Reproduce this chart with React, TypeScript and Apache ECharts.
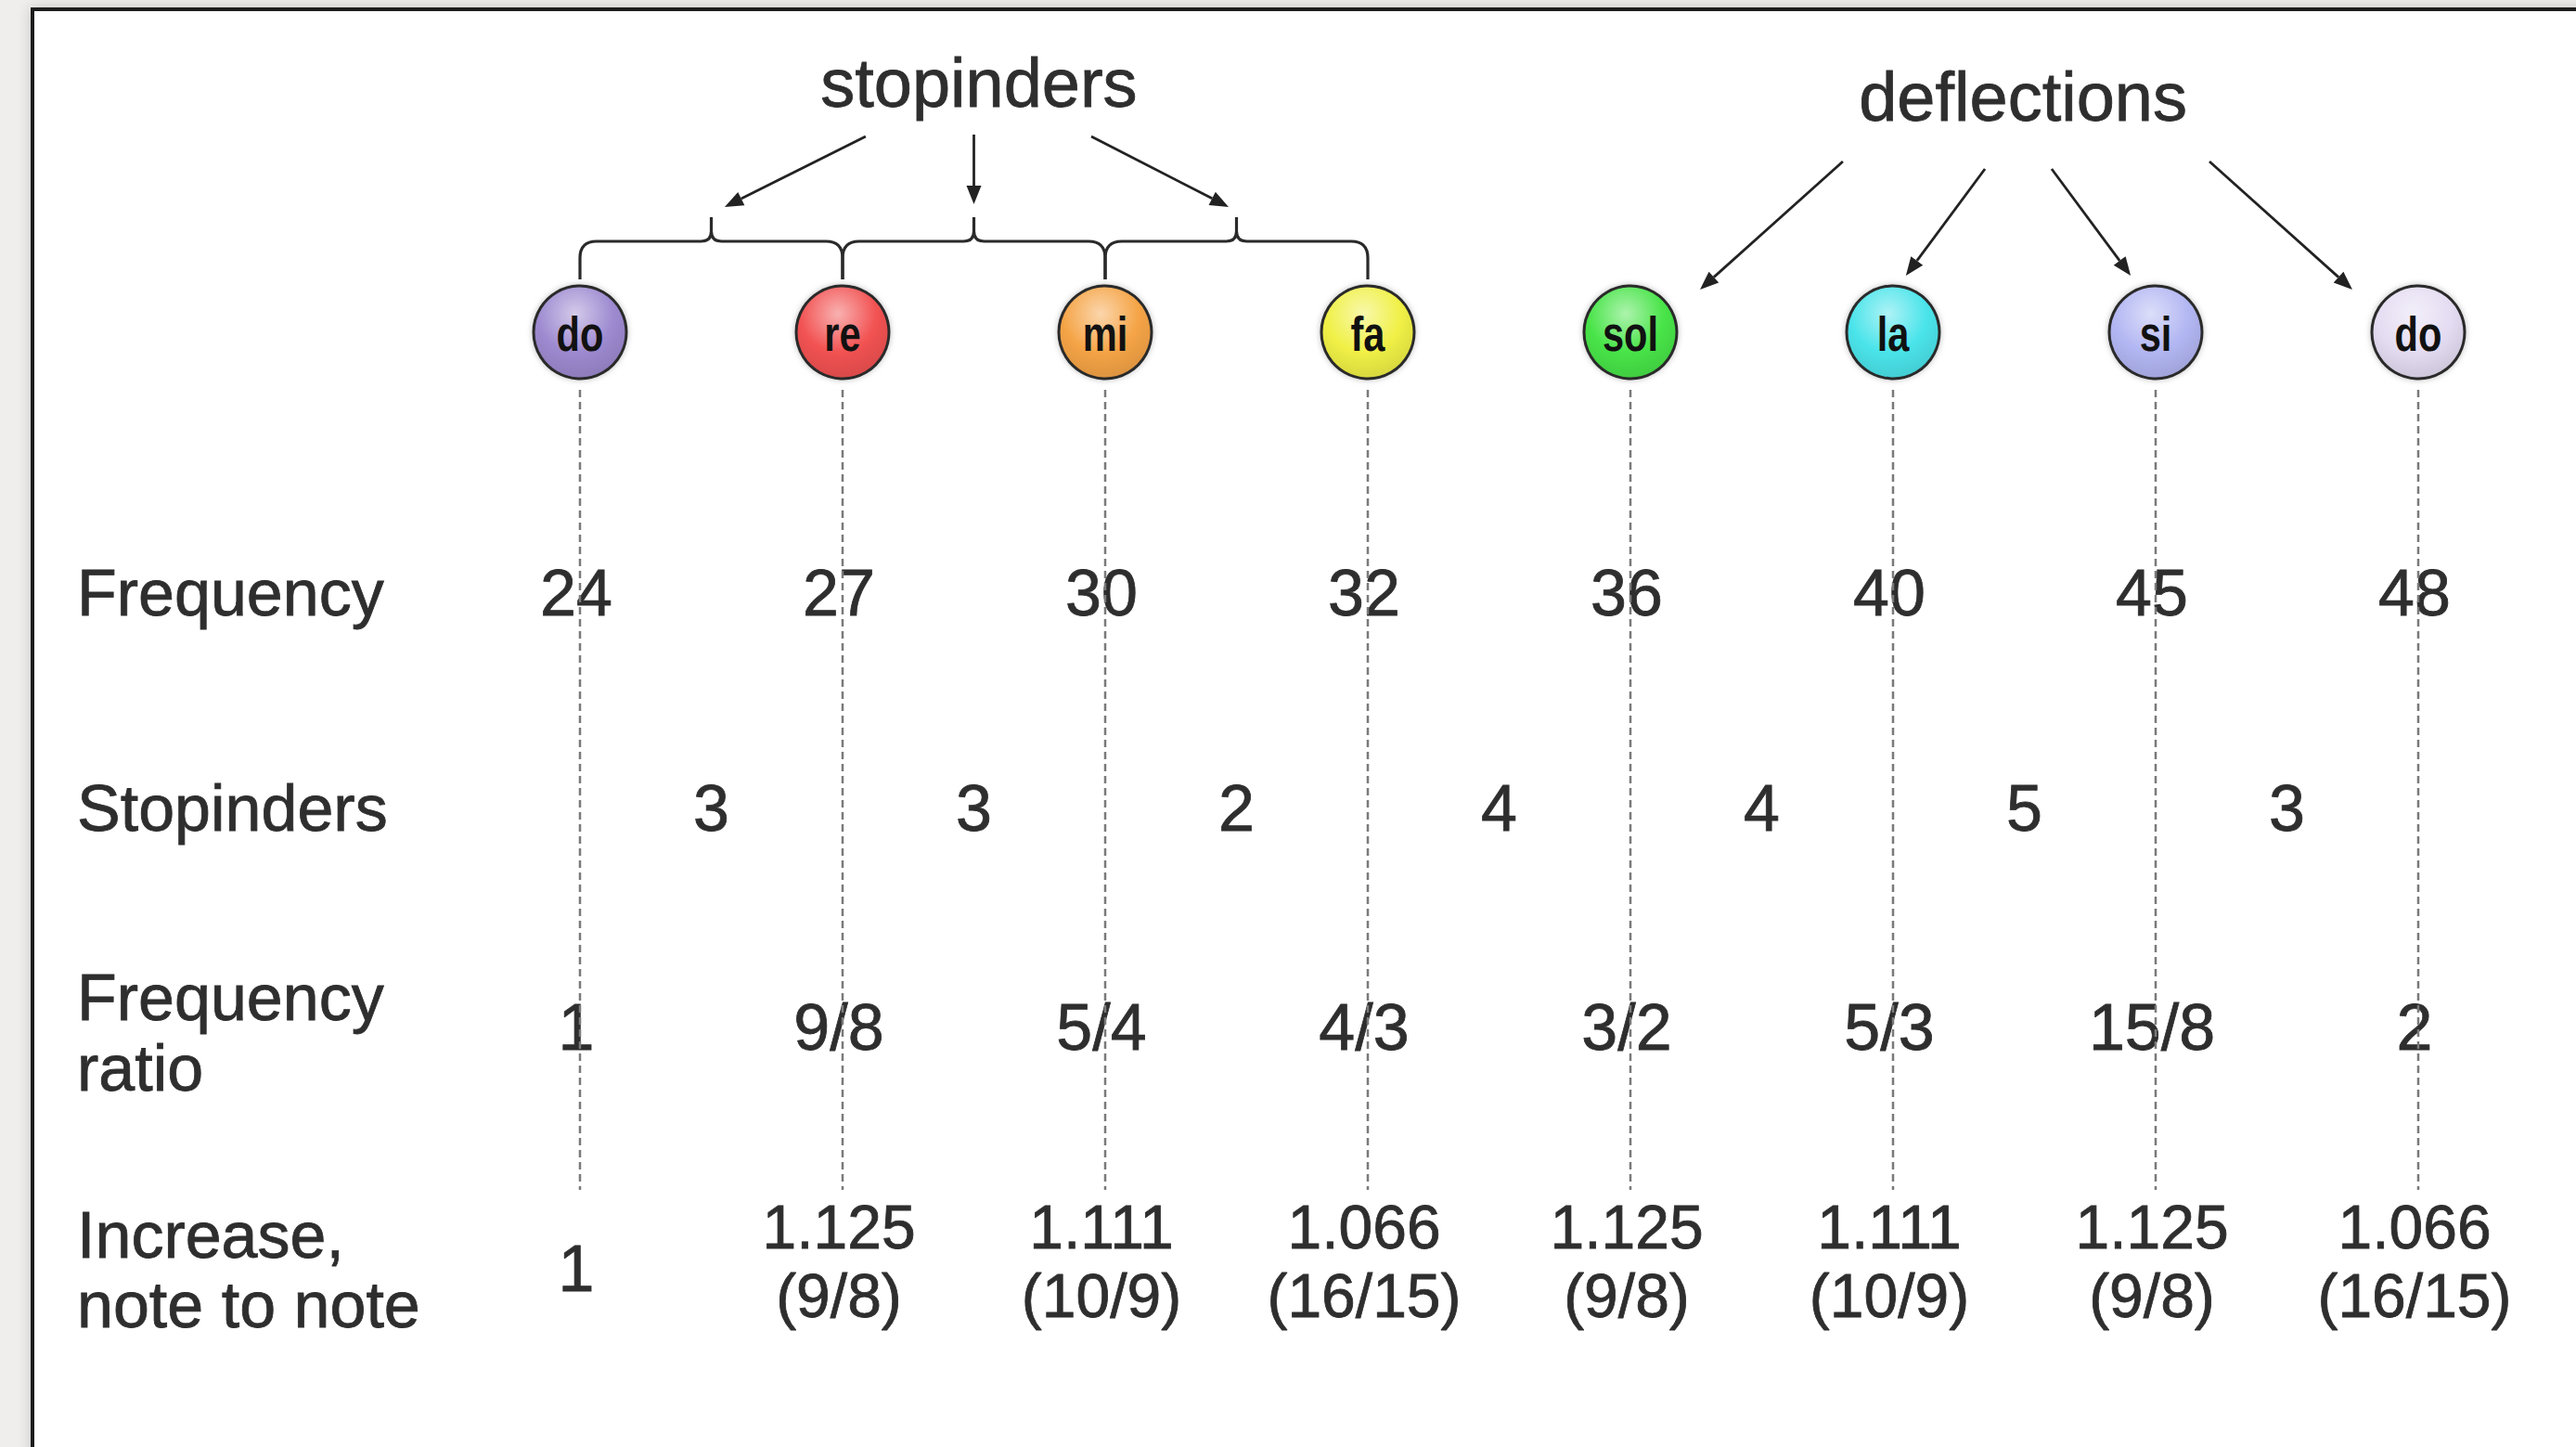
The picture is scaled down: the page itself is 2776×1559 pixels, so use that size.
import React, { useEffect, useRef } from "react";
import * as echarts from "echarts";

// ---------- data ----------
const notes = ["do", "re", "mi", "fa", "sol", "la", "si", "do"];
const noteColors = ["#9d8ad0", "#f25252", "#f5a446", "#f0f046", "#48e448", "#4ae4ea", "#b2b6f2", "#e4dcf2"];
const frequencies = [24, 27, 30, 32, 36, 40, 45, 48];
const stopinderCounts = [3, 3, 2, 4, 4, 5, 3];
const frequencyRatios = ["1", "9/8", "5/4", "4/3", "3/2", "5/3", "15/8", "2"];
const increaseDecimals = ["1", "1.125", "1.111", "1.066", "1.125", "1.111", "1.125", "1.066"];
const increaseFractions = ["", "(9/8)", "(10/9)", "(16/15)", "(9/8)", "(10/9)", "(9/8)", "(16/15)"];
const rowLabels = ["Frequency", "Stopinders", "Frequency\nratio", "Increase,\nnote to note"];
const groupTitles = ["stopinders", "deflections"];
const braceSpans = [[0, 1], [1, 2], [2, 3]];
// arrows: [fromNote, fromY, toNote, toY] (note index units, vertical layout units)
const stopinderArrows = [
  [1.088, 147, 0.551, 223],
  [1.5, 145, 1.5, 220],
  [1.947, 147, 2.47, 223],
];
const deflectionArrows = [
  [4.809, 174, 4.265, 312],
  [5.35, 182, 5.049, 297],
  [5.604, 182, 5.905, 297],
  [6.205, 174, 6.749, 312],
];

// ---------- layout ----------
const W = 2776;
const H = 1559;
const X0 = 625;
const STEP = 283;
const CIRCLE_Y = 358;
const CIRCLE_R = 50;
const DASH_TOP = 420;
const DASH_BOTTOM = 1282;
const ROW_FREQ = 639;
const ROW_STOP = 871;
const ROW_RATIO = 1107;
const ROW_INC_1 = 1322;
const ROW_INC_2 = 1396;
const ROW_INC_SINGLE = 1367;
const LABEL_X = 83;
const LABEL_Y = [639, 871, 1113, 1368];
const TITLE_POS = [[1.519, 89], [5.495, 104]];
const BRACE_TOP = 260;
const BRACE_END = 301;
const BRACE_TIP = 234;
const TEXT_DX = -4;

const FONT = '"Liberation Sans", Arial, Helvetica, sans-serif';
const TEXT_COLOR = "#2e2e2e";
const FS = 70;

function lighten(hex: string, amt: number) {
  const n = parseInt(hex.slice(1), 16);
  let r = (n >> 16) & 255, g = (n >> 8) & 255, b = n & 255;
  r = Math.round(r + (255 - r) * amt);
  g = Math.round(g + (255 - g) * amt);
  b = Math.round(b + (255 - b) * amt);
  return `rgb(${r},${g},${b})`;
}
function darken(hex: string, amt: number) {
  const n = parseInt(hex.slice(1), 16);
  const r = (n >> 16) & 255, g = (n >> 8) & 255, b = n & 255;
  return `rgb(${Math.round(r * (1 - amt))},${Math.round(g * (1 - amt))},${Math.round(b * (1 - amt))})`;
}

function textEl(x: number, y: number, text: string, extra: any = {}) {
  return {
    type: "text",
    x,
    y,
    style: {
      text,
      fill: TEXT_COLOR,
      fontSize: FS,
      fontFamily: FONT,
      align: "center",
      verticalAlign: "middle",
      stroke: TEXT_COLOR,
      lineWidth: 0.8,
      ...extra,
    },
  };
}

function arrowItem(api: any) {
  const p1 = api.coord([api.value(0), api.value(1)]);
  const p2 = api.coord([api.value(2), api.value(3)]);
  const dx = p2[0] - p1[0];
  const dy = p2[1] - p1[1];
  const len = Math.sqrt(dx * dx + dy * dy);
  const ux = dx / len, uy = dy / len;
  const hl = 20, hw = 8;
  const bx = p2[0] - ux * hl, by = p2[1] - uy * hl;
  return {
    type: "group",
    children: [
      {
        type: "line",
        shape: { x1: p1[0], y1: p1[1], x2: bx, y2: by },
        style: { stroke: "#222", lineWidth: 2.8 },
      },
      {
        type: "polygon",
        shape: {
          points: [
            [p2[0], p2[1]],
            [bx - uy * hw, by + ux * hw],
            [bx + uy * hw, by - ux * hw],
          ],
        },
        style: { fill: "#222" },
      },
    ],
  };
}

export default function App() {
  const ref = useRef<HTMLDivElement>(null);

  useEffect(() => {
    if (!ref.current) return;
    document.body.style.margin = "0";
    const chart = echarts.init(ref.current, undefined, { renderer: "svg", width: W, height: H });

    const xMin = -X0 / STEP;
    const xMax = (W - X0) / STEP;

    const graphic: any[] = [
      {
        type: "rect",
        shape: { x: 35, y: 10, width: W + 100, height: H + 100 },
        style: {
          fill: "#ffffff",
          stroke: "#1e1e1e",
          lineWidth: 4,
          shadowBlur: 14,
          shadowColor: "rgba(0,0,0,0.18)",
        },
        z: 0,
      },
    ];
    rowLabels.forEach((t, i) => {
      graphic.push({
        type: "text",
        x: LABEL_X,
        y: LABEL_Y[i],
        style: {
          text: t,
          fill: TEXT_COLOR,
          fontSize: FS,
          fontFamily: FONT,
          align: "left",
          verticalAlign: "middle",
          lineHeight: i === 2 ? 76 : 75,
          stroke: TEXT_COLOR,
          lineWidth: 0.8,
        },
        z: 10,
      });
    });

    const option: any = {
      animation: false,
      backgroundColor: "#efeeec",
      grid: { left: 0, right: 0, top: 0, bottom: 0, containLabel: false },
      xAxis: { type: "value", min: xMin, max: xMax, show: false },
      yAxis: { type: "value", min: 0, max: H, inverse: true, show: false },
      graphic,
      series: [
        // dashed guide lines
        {
          type: "custom",
          clip: false,
          z: 5,
          data: notes.map((_, i) => [i, DASH_TOP, DASH_BOTTOM]),
          renderItem: (params: any, api: any) => {
            const a = api.coord([api.value(0), api.value(1)]);
            const b = api.coord([api.value(0), api.value(2)]);
            return {
              type: "line",
              shape: { x1: a[0], y1: a[1], x2: b[0], y2: b[1] },
              style: { stroke: "#7a7a7a", lineWidth: 2.5, lineDash: [8, 5] },
            };
          },
        },
        // note circles
        {
          type: "custom",
          clip: false,
          z: 6,
          data: notes.map((_, i) => [i, CIRCLE_Y]),
          renderItem: (params: any, api: any) => {
            const c = api.coord([api.value(0), api.value(1)]);
            const col = noteColors[params.dataIndex];
            return {
              type: "group",
              children: [
                {
                  type: "circle",
                  shape: { cx: c[0], cy: c[1], r: CIRCLE_R },
                  style: {
                    fill: new echarts.graphic.RadialGradient(0.45, 0.3, 0.75, [
                      { offset: 0, color: lighten(col, 0.55) },
                      { offset: 0.55, color: col },
                      { offset: 1, color: darken(col, 0.12) },
                    ]),
                    stroke: "#2a2a2a",
                    lineWidth: 3,
                    shadowBlur: 6,
                    shadowColor: "rgba(0,0,0,0.25)",
                  },
                },
                {
                  type: "text",
                  x: c[0],
                  y: c[1] + 2,
                  scaleX: 0.8,
                  style: {
                    text: notes[params.dataIndex],
                    fill: "#111",
                    fontSize: 52,
                    fontWeight: "bold",
                    fontFamily: FONT,
                    align: "center",
                    verticalAlign: "middle",
                  },
                },
              ],
            };
          },
        },
        // frequency row
        {
          type: "custom",
          clip: false,
          z: 3,
          data: frequencies.map((f, i) => [i, ROW_FREQ, f]),
          renderItem: (params: any, api: any) => {
            const c = api.coord([api.value(0), api.value(1)]);
            return textEl(c[0] + TEXT_DX, c[1], String(api.value(2)));
          },
        },
        // stopinders row
        {
          type: "custom",
          clip: false,
          z: 3,
          data: stopinderCounts.map((s, i) => [i + 0.5, ROW_STOP, s]),
          renderItem: (params: any, api: any) => {
            const c = api.coord([api.value(0), api.value(1)]);
            return textEl(c[0], c[1], String(api.value(2)));
          },
        },
        // frequency ratio row
        {
          type: "custom",
          clip: false,
          z: 3,
          data: frequencyRatios.map((_, i) => [i, ROW_RATIO]),
          renderItem: (params: any, api: any) => {
            const c = api.coord([api.value(0), api.value(1)]);
            return textEl(c[0] + TEXT_DX, c[1], frequencyRatios[params.dataIndex]);
          },
        },
        // increase row
        {
          type: "custom",
          clip: false,
          z: 3,
          data: increaseDecimals.map((_, i) => [i, ROW_INC_1]),
          renderItem: (params: any, api: any) => {
            const i = params.dataIndex;
            const frac = increaseFractions[i];
            if (!frac) {
              const c = api.coord([api.value(0), ROW_INC_SINGLE]);
              return textEl(c[0] + TEXT_DX, c[1], increaseDecimals[i]);
            }
            const c1 = api.coord([api.value(0), ROW_INC_1]);
            const c2 = api.coord([api.value(0), ROW_INC_2]);
            return {
              type: "group",
              children: [
                textEl(c1[0] + TEXT_DX, c1[1], increaseDecimals[i], { fontSize: 66 }),
                textEl(c2[0] + TEXT_DX, c2[1], frac, { fontSize: 66 }),
              ],
            };
          },
        },
        // group titles
        {
          type: "custom",
          clip: false,
          z: 3,
          data: TITLE_POS.map((p) => [p[0], p[1]]),
          renderItem: (params: any, api: any) => {
            const c = api.coord([api.value(0), api.value(1)]);
            return textEl(c[0], c[1], groupTitles[params.dataIndex], { fontSize: 74 });
          },
        },
        // braces
        {
          type: "custom",
          clip: false,
          z: 4,
          data: braceSpans.map((s) => [s[0], s[1]]),
          renderItem: (params: any, api: any) => {
            const a = api.coord([api.value(0), BRACE_TOP]);
            const b = api.coord([api.value(1), BRACE_TOP]);
            const yEnd = api.coord([0, BRACE_END])[1];
            const yTip = api.coord([0, BRACE_TIP])[1];
            const y = a[1];
            const x0 = a[0], x1 = b[0], xm = (x0 + x1) / 2;
            const r = 18, r2 = 11;
            const d =
              `M${x0} ${yEnd} L${x0} ${y + r} Q${x0} ${y} ${x0 + r} ${y} L${xm - r2} ${y} ` +
              `Q${xm} ${y} ${xm} ${y - r2} L${xm} ${yTip} ` +
              `M${xm} ${y - r2} Q${xm} ${y} ${xm + r2} ${y} L${x1 - r} ${y} ` +
              `Q${x1} ${y} ${x1} ${y + r} L${x1} ${yEnd}`;
            return {
              type: "path",
              shape: { pathData: d },
              style: { stroke: "#2a2a2a", lineWidth: 3.2, fill: "none" },
            };
          },
        },
        // stopinder arrows
        {
          type: "custom",
          clip: false,
          z: 4,
          data: stopinderArrows,
          renderItem: (params: any, api: any) => arrowItem(api),
        },
        // deflection arrows
        {
          type: "custom",
          clip: false,
          z: 4,
          data: deflectionArrows,
          renderItem: (params: any, api: any) => arrowItem(api),
        },
      ],
    };

    chart.setOption(option);
    return () => chart.dispose();
  }, []);

  return (
    <div
      ref={ref}
      style={{ position: "absolute", left: 0, top: 0, width: W, height: H }}
    />
  );
}
